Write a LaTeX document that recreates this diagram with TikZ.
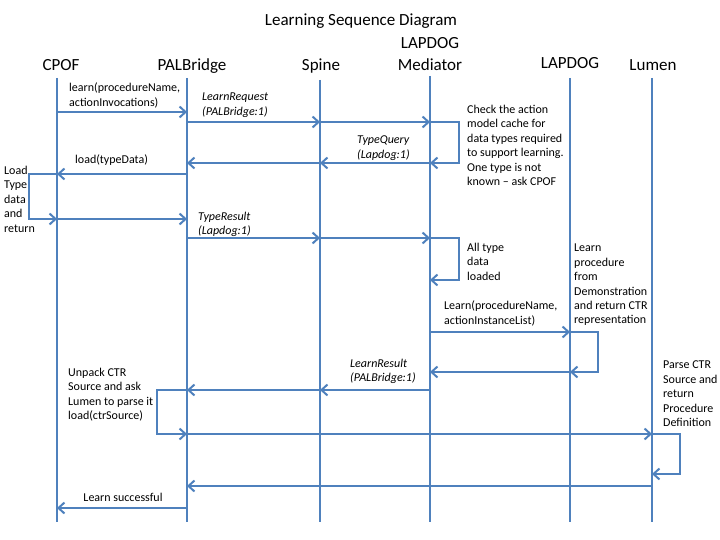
\documentclass[tikz,border=0pt]{standalone}
\usepackage{fontspec}
\setmainfont{Carlito}
\usetikzlibrary{arrows.meta}
\definecolor{seqblue}{RGB}{79,129,189}
\tikzstyle{lifeline} = [draw=seqblue, line width=2pt]
\tikzstyle{arrow} = [draw=seqblue, line width=2pt, -{Straight Barb[length=6pt,width=11pt]}]
\tikzstyle{head} = [font=\fontsize{17}{22}\selectfont, anchor=base, align=center, inner sep=0pt]
\tikzstyle{txt} = [anchor=north west, align=left, inner sep=0pt, font=\fontsize{12}{14.4}\selectfont]
\tikzstyle{itxt} = [txt, font=\fontsize{12}{14.4}\selectfont\itshape]

\begin{document}
\begin{tikzpicture}[x=1pt, y=-1pt]
  \useasboundingbox (0,0) rectangle (720,540);
  \node (title) [head] at (361,26) {Learning Sequence Diagram};

  \node (cpof_head) [head] at (61,71) {CPOF};
  \node (palbridge_head) [head] at (192,71) {PALBridge};
  \node (spine_head) [head] at (321,71) {Spine};
  \node (mediator_head) [head] at (430,71) {LAPDOG\\Mediator};
  \node (lapdog_head) [head] at (570,68.5) {LAPDOG};
  \node (lumen_head) [head] at (653,71) {Lumen};

  \coordinate (cpof) at (57,78);
  \coordinate (palbridge) at (187,78);
  \coordinate (spine) at (320,80);
  \coordinate (mediator) at (430,76);
  \coordinate (lapdog) at (570,78);
  \coordinate (lumen) at (652,78);
  \coordinate (bottom) at (0,522);

  \draw[lifeline] (cpof) -- (cpof |- bottom);
  \draw[lifeline] (palbridge) -- (palbridge |- bottom);
  \draw[lifeline] (spine) -- (spine |- bottom);
  \draw[lifeline] (mediator) -- (mediator |- bottom);
  \draw[lifeline] (lapdog) -- (lapdog |- bottom);
  \draw[lifeline] (lumen) -- (lumen |- bottom);

  \node (learn_lbl) [txt] at (69,83) {learn(procedureName,\\actionInvocations)};
  \node (request_lbl) [itxt] at (202,93) {LearnRequest\\(PALBridge:1)};
  \node (check_lbl) [txt] at (467,105) {Check the action\\model cache for\\data types required\\to support learning.\\One type is not\\known – ask CPOF};
  \node (query_lbl) [itxt] at (357,136) {TypeQuery\\(Lapdog:1)};
  \node (load_lbl) [txt] at (75,155) {load(typeData)};
  \node (loadtype_lbl) [txt] at (4,166) {Load\\Type\\data\\and\\return};
  \node (result_lbl) [itxt] at (198,212) {TypeResult\\(Lapdog:1)};
  \node (alltype_lbl) [txt] at (467,243) {All type\\data\\loaded};
  \node (procedure_lbl) [txt] at (574,244) {Learn\\procedure\\from\\Demonstration\\and return CTR\\representation};
  \node (learncall_lbl) [txt] at (444,301) {Learn(procedureName,\\actionInstanceList)};
  \node (learnresult_lbl) [itxt] at (350,359) {LearnResult\\(PALBridge:1)};
  \node (unpack_lbl) [txt] at (68,368) {Unpack CTR\\Source and ask\\Lumen to parse it\\load(ctrSource)};
  \node (parse_lbl) [txt] at (663,361) {Parse CTR\\Source and\\return\\Procedure\\Definition};
  \node (success_lbl) [txt, anchor=north] at (123,493) {Learn successful};

  \draw[arrow] (cpof |- 0,112) -- (palbridge |- 0,112);
  \draw[arrow] (palbridge |- 0,122) -- (spine |- 0,122);
  \draw[arrow] (spine |- 0,122) -- (mediator |- 0,122);
  \draw[arrow] (mediator |- 0,122) --++(29,0) |- (mediator |- 0,163);
  \draw[arrow] (mediator |- 0,163) -- (spine |- 0,163);
  \draw[arrow] (spine |- 0,163) -- (palbridge |- 0,163);
  \draw[arrow] (palbridge |- 0,174) -- (cpof |- 0,174);
  \draw[arrow] (cpof |- 0,174) --++(-28,0) |- (cpof |- 0,219);
  \draw[arrow] (cpof |- 0,219) -- (palbridge |- 0,219);
  \draw[arrow] (palbridge |- 0,238) -- (spine |- 0,238);
  \draw[arrow] (spine |- 0,238) -- (mediator |- 0,238);
  \draw[arrow] (mediator |- 0,238) --++(29,0) |- (mediator |- 0,280);
  \draw[arrow] (mediator |- 0,332) -- (lapdog |- 0,332);
  \draw[arrow] (lapdog |- 0,332) --++(28,0) |- (lapdog |- 0,372);
  \draw[arrow] (lapdog |- 0,372) -- (mediator |- 0,372);
  \draw[arrow] (mediator |- 0,390) -- (spine |- 0,390);
  \draw[arrow] (spine |- 0,390) -- (palbridge |- 0,390);
  \draw[arrow] (palbridge |- 0,390) --++(-30,0) |- (palbridge |- 0,434);
  \draw[arrow] (palbridge |- 0,434) -- (lumen |- 0,434);
  \draw[arrow] (lumen |- 0,434) --++(28,0) |- (lumen |- 0,474);
  \draw[arrow] (lumen |- 0,486) -- (palbridge |- 0,486);
  \draw[arrow] (palbridge |- 0,508) -- (cpof |- 0,508);
\end{tikzpicture}
\end{document}
